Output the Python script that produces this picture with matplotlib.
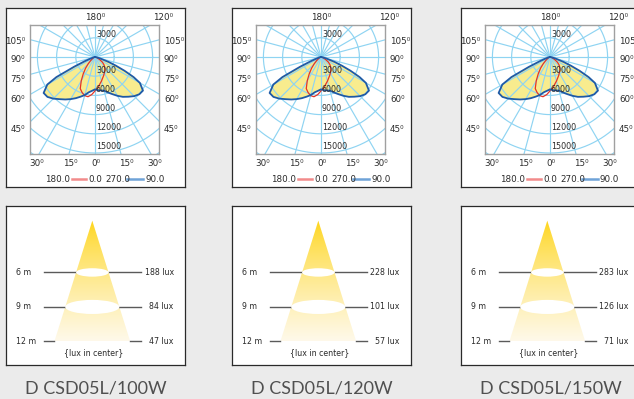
import numpy as np
import matplotlib
matplotlib.use('Agg')
import matplotlib.pyplot as plt
from matplotlib.patches import Ellipse, Polygon

# ---------------- data ----------------
titles = ['D CSD05L/100W', 'D CSD05L/120W', 'D CSD05L/150W']

# polar diagram (cd), gamma measured from nadir
gammas = [0, 5, 10, 15, 20, 25, 30, 35, 40, 45, 50, 55, 60, 62.5, 65, 67.5, 70, 75, 80, 90]
c270 = [5050, 5300, 5600, 6150, 6600, 7100, 7600, 8100, 8600, 9200, 9700, 9800, 8600, 6800, 3600, 1800, 900, 300, 100, 0]
c90 = [5050, 5200, 5300, 5450, 5900, 6400, 7000, 7600, 8100, 8650, 9050, 9150, 8100, 6800, 5100, 3500, 2300, 800, 200, 0]
c180 = [5300, 5900, 6300, 6250, 5900, 5450, 4300, 3200, 2300, 1500, 900, 500, 300, 250, 200, 150, 100, 50, 20, 0]
c0 = [5200, 4900, 4300, 3900, 3500, 3200, 2900, 2650, 2400, 2100, 1800, 1400, 900, 700, 500, 400, 300, 150, 80, 0]

circle_vals = [3000, 6000, 9000, 12000, 15000, 18000]
circle_labels = ['3000', '6000', '9000', '12000', '15000']
side_angles = [105, 90, 75, 60, 45]
bottom_angles = [30, 15, 0, 15, 30]

# illuminance cone
distances = [6, 9, 12]
lux = [[188, 84, 47], [228, 101, 57], [283, 126, 71]]

# ---------------- layout ----------------
W, H = 634, 399
fig = plt.figure(figsize=(W / 100, H / 100), dpi=100)
fig.patch.set_facecolor('#ebebeb')

panel_left = [6, 232, 461]
S = 156.25  # cd per pixel
GRID = '#8fd4f2'
TXT = '#2b2b2b'
lab_font = ['DejaVu Sans']
num_font = ['Liberation Sans Narrow', 'DejaVu Sans']


def px_axes(x, y, w, h):
    ax = fig.add_axes([x / W, 1 - (y + h) / H, w / W, h / H])
    ax.set_xticks([])
    ax.set_yticks([])
    return ax


def box_axes(x, y, w, h):
    ax = px_axes(x, y, w, h)
    ax.set_xlim(0, w)
    ax.set_ylim(h, 0)
    ax.set_facecolor('white')
    for s in ax.spines.values():
        s.set_color('#2a2a2a')
        s.set_linewidth(0.9)
    return ax


def curve(left, right):
    g = np.radians(gammas)
    xl = -np.array(left) * np.sin(g)
    yl = -np.array(left) * np.cos(g)
    xr = np.array(right) * np.sin(g)
    yr = -np.array(right) * np.cos(g)
    xs = np.concatenate([xl[::-1], xr])
    ys = np.concatenate([yl[::-1], yr])
    return xs, ys


def draw_polar(x0):
    box = box_axes(x0, 8, 179, 179)
    ax = px_axes(x0 + 24, 25, 129, 129)
    ax.set_xlim(-65 * S, 64 * S)
    ax.set_ylim(-97 * S, 32 * S)
    for s in ax.spines.values():
        s.set_color('#a0a0a0')
        s.set_linewidth(1.0)

    # yellow fill of the 90/270 plane
    bx, by = curve(c270, c90)
    ax.fill(bx, by, color='#f8ec8e', lw=0, zorder=1)

    # grid
    t = np.linspace(0, 2 * np.pi, 400)
    for r in circle_vals:
        ax.plot(r * np.cos(t), r * np.sin(t), color=GRID, lw=0.85, zorder=2)
    for a in range(0, 360, 15):
        ax.plot([0, 25000 * np.cos(np.radians(a))], [0, 25000 * np.sin(np.radians(a))],
                color=GRID, lw=0.85, zorder=2)

    ax.plot(bx, by, color='#1f5aa6', lw=1.3, zorder=4)
    rx, ry = curve(c180, c0)
    ax.plot(rx, ry, color='#e53424', lw=0.9, zorder=3)

    # circle labels
    ax.text(150, 3440, circle_labels[0], fontsize=5.8, family=num_font, color=TXT,
            ha='left', va='center', zorder=5)
    for r, lab in zip(circle_vals, circle_labels):
        ax.text(150, -r + 950, lab, fontsize=5.8, family=num_font, color=TXT,
                ha='left', va='center', zorder=5)

    # angle labels around the frame
    kw = dict(fontsize=6.3, family=lab_font, color=TXT, va='center')
    box.text(89, 9, '180\u2070', ha='center', **kw)
    box.text(157, 9, '120\u2070', ha='center', **kw)
    for a, y in zip(side_angles, [34, 52, 71, 92, 121]):
        box.text(19, y, f'{a}\u2070', ha='right', **kw)
        box.text(158, y, f'{a}\u2070', ha='left', **kw)
    for a, x in zip(bottom_angles, [31, 64, 90, 120, 149]):
        box.text(x, 156, f'{a}\u2070', ha='center', **kw)

    # legend
    box.text(64, 171, '180.0', ha='right', **kw)
    box.plot([65.5, 80], [171, 171], color='#f28b8b', lw=1.8)
    box.text(82, 171, '0.0', ha='left', **kw)
    box.text(99, 171, '270.0', ha='left', **kw)
    box.plot([121, 136.5], [171, 171], color='#6fa3d8', lw=1.8)
    box.text(139, 171, '90.0', ha='left', **kw)


def draw_cone(x0, values, title):
    box_axes(x0, 206, 179, 159)
    k = 11.5          # px per metre
    d0 = 1.5          # apex distance
    ax = px_axes(x0, 206, 179, 159)
    ax.set_facecolor('none')
    for s in ax.spines.values():
        s.set_visible(False)
    ax.set_xlim(-86.3 / k, (179 - 86.3) / k)
    ax.set_ylim(d0 + (159 - 14.7) / k, d0 - 14.7 / k)
    slope = 0.314
    dmax = distances[-1]
    hw = (dmax - d0) * slope

    # gradient cone
    top = np.array([255, 212, 20]) / 255
    bot = np.array([254, 249, 234]) / 255
    f = np.linspace(0, 1, 256) ** 0.75
    grad = top[None, :] * (1 - f[:, None]) + bot[None, :] * f[:, None]
    img = ax.imshow(grad[:, None, :], extent=[-hw, hw, dmax, d0], aspect='auto',
                    zorder=1, interpolation='bilinear')
    tri = Polygon([[0, d0], [-hw, dmax], [hw, dmax]], closed=True, transform=ax.transData,
                  facecolor='none', edgecolor='none')
    ax.add_patch(tri)
    img.set_clip_path(tri)

    for d, v in zip(distances, values):
        w = (d - d0) * slope
        if d != dmax:
            ax.add_patch(Ellipse((0, d), 2 * w, 2 * w * 0.26,
                                 facecolor='white', edgecolor='none', zorder=3))
        ax.plot([-4.23, -w], [d, d], color='#5a5a5a', lw=1.0, zorder=2)
        ax.plot([w, 4.26], [d, d], color='#5a5a5a', lw=1.0, zorder=2)
        ax.text(-6.66, d, f'{d} m', fontsize=5.7, family=lab_font, color=TXT,
                ha='left', va='center')
        ax.text(7.08, d, f'{v} lux', fontsize=5.7, family=lab_font, color=TXT,
                ha='right', va='center')
    ax.text(0.15, dmax + 1.0, '{lux in center}', fontsize=5.7, family=lab_font,
            color=TXT, ha='center', va='center')

    fig.text((x0 + 89.5) / W, 1 - 388 / H, title, fontsize=13, family=['Lato', 'DejaVu Sans'],
             fontweight='normal', color='#505050', ha='center', va='center')


for x0, vals, title in zip(panel_left, lux, titles):
    draw_polar(x0)
    draw_cone(x0, vals, title)

fig.savefig('out.png', dpi=100, facecolor=fig.get_facecolor())
